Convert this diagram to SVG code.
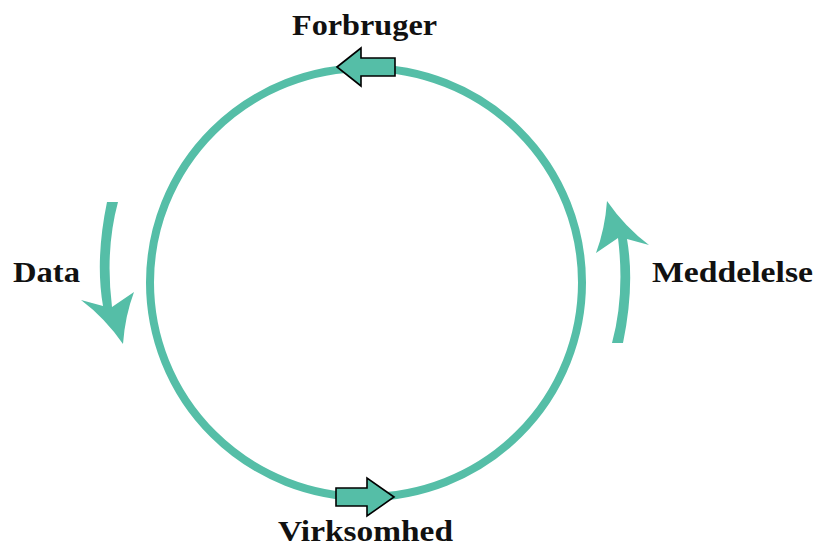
<svg xmlns="http://www.w3.org/2000/svg" width="818" height="547" viewBox="0 0 818 547">
  <defs>
    <style>
      .lbl { font-family: "Liberation Serif", "Times New Roman", serif; font-weight: bold; font-size: 29px; fill: #111111; }
      .teal { fill: #55bea7; }
      .box { fill: #55bea7; stroke: #000000; stroke-width: 1.6; stroke-linejoin: miter; }
      .ring { fill: none; stroke: #55bea7; stroke-width: 8; }
    </style>
    <path id="curvedArrow" d="M 107,202 L 118,202 Q 105,250 112,307 L 134,292 Q 125,316 123,344 Q 105,318 81,300 L 103,306 Q 95,260 107,202 Z"/>
  </defs>
  <rect width="818" height="547" fill="#ffffff"/>
  <g id="connectors">
    <ellipse class="ring" cx="366" cy="282.5" rx="216" ry="214.5"/>
    <use href="#curvedArrow" class="teal"/>
    <use href="#curvedArrow" class="teal" transform="rotate(180 365 272.5)"/>
    <polygon class="box" points="337,67 361,48 361,58 395,58 395,76 361,76 361,86"/>
    <polygon class="box" points="394,497 367,478 367,488 336,488 336,506 367,506 367,516"/>
  </g>
  <g id="node-forbruger">
    <text class="lbl" x="292" y="35" textLength="145" lengthAdjust="spacingAndGlyphs">Forbruger</text>
  </g>
  <g id="node-virksomhed">
    <text class="lbl" x="278" y="541" font-size="28" textLength="175" lengthAdjust="spacingAndGlyphs">Virksomhed</text>
  </g>
  <g id="node-data">
    <text class="lbl" x="13" y="282" textLength="67" lengthAdjust="spacingAndGlyphs">Data</text>
  </g>
  <g id="node-meddelelse">
    <text class="lbl" x="652" y="282" textLength="161" lengthAdjust="spacingAndGlyphs">Meddelelse</text>
  </g>
</svg>
